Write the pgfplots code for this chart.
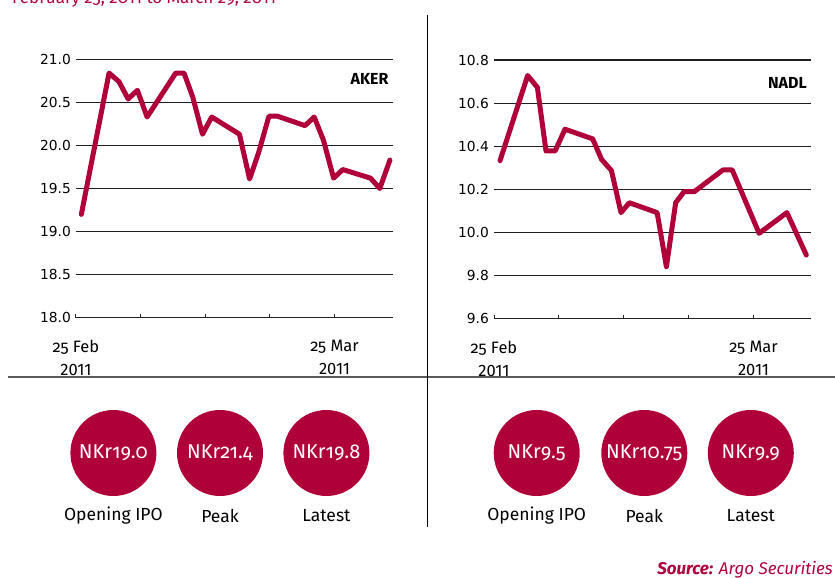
\documentclass[border=0pt]{standalone}
\usepackage{pgfplots}
\pgfplotsset{compat=1.18}
\usepackage{fontspec}
\setmainfont{Fira Sans}[Numbers=OldStyle]
\newfontfamily\lining{Fira Sans}
\newfontfamily\tickfont{DejaVu Sans}
\definecolor{crim}{HTML}{B0003A}
\pgfplotsset{
  stock/.style={
    scale only axis, anchor=south west, clip=false,
    axis line style={draw=none},
    ymajorgrids, major grid style={black!88, line width=1.2pt},
    xtick={0,7,14,21,28},
    xticklabels={{25 Feb\\{\lining 2011}},{},{},{},{25 Mar\\{\lining 2011}}},
    xticklabel style={align=center, font=\fontsize{16.5}{23.3}\selectfont, anchor=north, inner sep=0pt, yshift=-22pt},
    tick align=inside, xtick pos=bottom, ytick pos=left,
    major x tick style={black!85, line width=1pt}, major tick length=4pt,
    major y tick style={draw=none},
    yticklabel style={font=\tickfont\fontsize{13.8}{13.8}\selectfont, anchor=east, inner sep=0pt, xshift=-5pt,
      /pgf/number format/fixed, /pgf/number format/fixed zerofill, /pgf/number format/precision=1},
    /pgf/number format/assume math mode=true,
  },
  stockline/.style={crim, line width=5pt, line join=round, line cap=round}
}
\begin{document}
\begin{tikzpicture}[x=1pt,y=1pt]
\useasboundingbox (0,0) rectangle (835,578);
% title (clipped at top, as in the source image)
\node[anchor=base west, inner sep=0pt, text=crim, font=\fontsize{17}{17}\selectfont] at (12,574) {February 25, 2011 to March 29, 2011};
% left chart
\begin{axis}[stock, at={(76pt,260.3pt)}, width=316.7pt, height=258.4pt,
  xmin=0, xmax=34.3, ymin=18, ymax=21, ytick={18,18.5,19,19.5,20,20.5,21}]
\addplot[stockline] coordinates {
(0.58,19.20) (3.58,20.84) (4.66,20.74) (5.64,20.54) (6.65,20.64) (7.7,20.33)
(10.8,20.84) (11.7,20.84) (12.65,20.56) (13.7,20.13) (14.7,20.33) (17.7,20.13)
(18.8,19.61) (19.76,19.91) (20.9,20.34) (21.8,20.34) (24.8,20.23) (25.8,20.33)
(26.8,20.06) (27.9,19.62) (28.9,19.72) (31.9,19.62) (32.9,19.50) (34.0,19.83)};
\node[anchor=east, inner sep=0pt, font=\bfseries\fontsize{16}{16}\selectfont] at (rel axis cs:1,1) [xshift=-4pt, yshift=-20pt] {AKER};
\end{axis}
% right chart
\begin{axis}[stock, at={(494pt,259.3pt)}, width=317pt, height=258.7pt,
  xmin=0, xmax=34.2, ymin=9.6, ymax=10.8, ytick={9.6,9.8,10.0,10.2,10.4,10.6,10.8}]
\addplot[stockline] coordinates {
(0.65,10.333) (3.63,10.728) (4.68,10.673) (5.61,10.378) (6.59,10.378) (7.66,10.479)
(10.65,10.434) (11.6,10.339) (12.67,10.287) (13.7,10.092) (14.6,10.138) (17.6,10.092)
(18.6,9.841) (19.6,10.138) (20.5,10.189) (21.6,10.189) (24.7,10.29) (25.7,10.29)
(28.6,9.996) (31.6,10.092) (33.7,9.895)};
\node[anchor=east, inner sep=0pt, font=\bfseries\fontsize{16}{16}\selectfont] at (rel axis cs:1,1) [xshift=-4pt, yshift=-23pt] {NADL};
\end{axis}
% separators
\draw[black!65, line width=2.5pt] (8,201) -- (835,201);
\draw[black, line width=1pt] (427,51) -- (427,563);
% circles
\foreach \cx/\t/\l in {113.4/NKr19.0/Opening IPO, 220/NKr21.4/Peak, 326.4/NKr19.8/Latest,
                       536.7/NKr9.5/Opening IPO, 644.3/NKr10.75/Peak, 750.8/NKr9.9/Latest}{
  \fill[crim] (\cx,125) circle (43);
  \node[text=white, font=\fontsize{20}{20}\selectfont] at (\cx,125) {\t};
  \node[font=\fontsize{17.5}{17.5}\selectfont] at (\cx,62) {\l};
}
% source
\node[anchor=base east, inner sep=0pt, text=crim, font=\itshape\fontsize{17}{17}\selectfont] at (833,3) {\textbf{Source:} Argo Securities};
\end{tikzpicture}
\end{document}
